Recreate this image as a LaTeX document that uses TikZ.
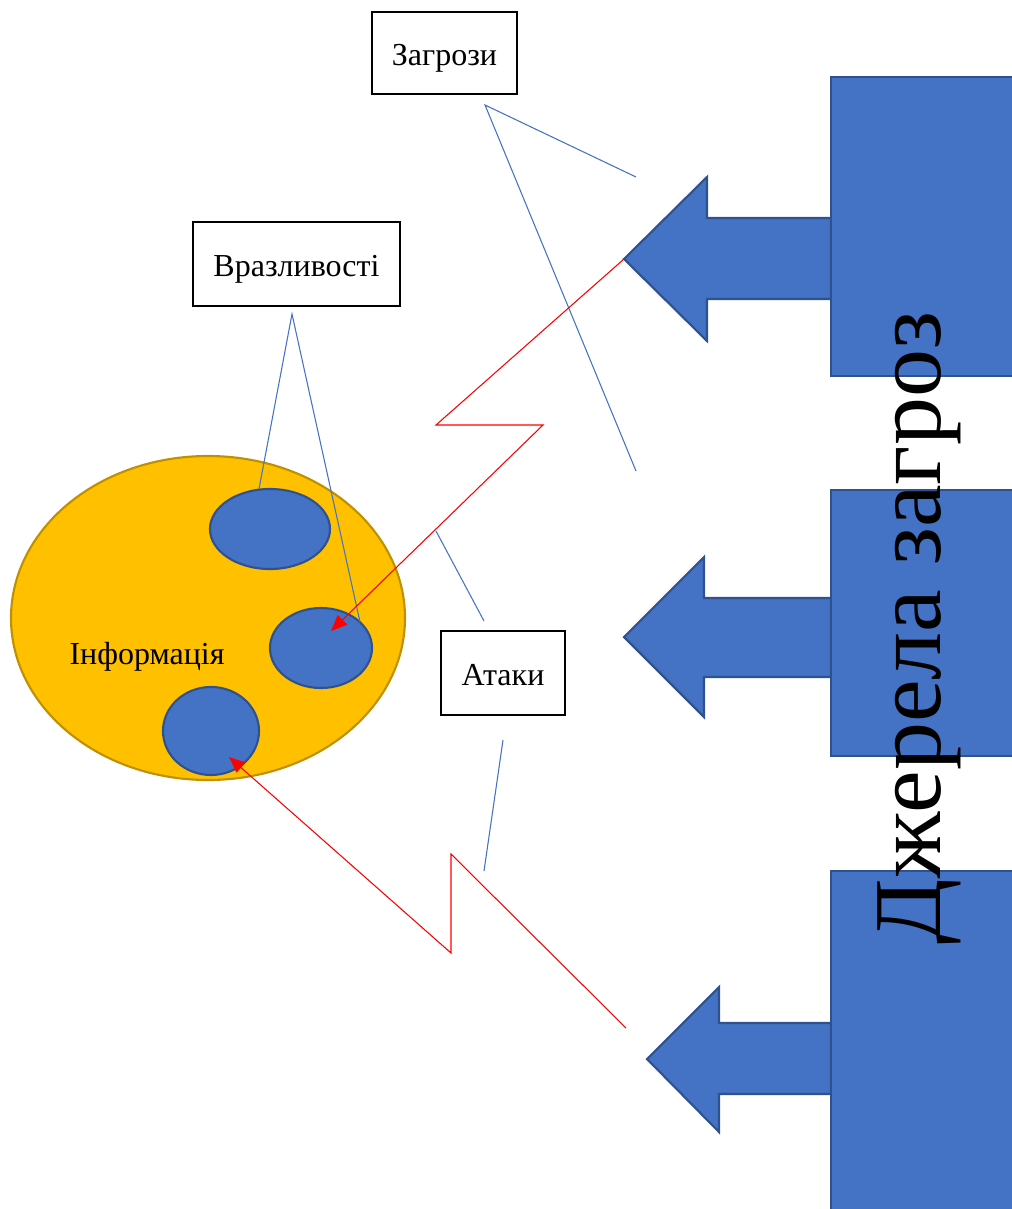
\documentclass[tikz,border=0pt]{standalone}
\usepackage{fontspec}
\setmainfont{Liberation Serif}
\usetikzlibrary{shapes.geometric,arrows.meta}
\definecolor{accent}{HTML}{4472C4}
\definecolor{accentdark}{HTML}{2F528F}
\definecolor{gold}{HTML}{FFC000}
\definecolor{golddark}{HTML}{BF9000}
\definecolor{threat}{HTML}{FF0000}

\begin{document}
\begin{tikzpicture}[x=0.75pt,y=-0.75pt,
  labeltext/.style={font=\fontsize{24}{28}\selectfont},
  labelbox/.style={labeltext, draw=black, line width=0.9pt, fill=white, inner sep=0pt,
    text height=20pt, text depth=1.5pt},
  asset/.style={ellipse, draw=accentdark, line width=1.6pt, fill=accent, inner sep=0pt},
  infoarea/.style={ellipse, draw=golddark, line width=1.6pt, fill=gold, inner sep=0pt},
  blockarrow/.style={fill=accent, draw=accentdark, line width=1.6pt, line join=miter},
  source/.style={fill=accent, draw=accentdark, line width=1.6pt},
  leader/.style={draw=accent, line width=0.8pt},
  attack/.style={draw=threat, line width=0.8pt, line join=miter},
  attacktip/.style={-{Triangle[length=12pt,width=10pt]}}
]
\useasboundingbox (0,0) rectangle (1012,1209);

% information area with assets
\node[infoarea, minimum width=394*0.75pt, minimum height=324*0.75pt] (info) at (208,618) {};
\node[asset, minimum width=120*0.75pt, minimum height=80*0.75pt] (as1) at (270,529) {};
\node[asset, minimum width=102*0.75pt, minimum height=80*0.75pt] (as2) at (321,648) {};
\node[asset, minimum width=96*0.75pt, minimum height=88*0.75pt] (as3) at (211,731) {};
\node[labeltext] (infotext) at (147,657) {Інформація};

% block arrows leaving the threat sources
\path[blockarrow] (624,259) -- (707,177) -- (707,218) -- (831,218) -- (831,299)
  -- (707,299) -- (707,341) -- cycle;
\path[blockarrow] (624,637) -- (704,557) -- (704,598) -- (831,598) -- (831,677)
  -- (704,677) -- (704,717) -- cycle;
\path[blockarrow] (647,1059) -- (719,987) -- (719,1023) -- (831,1023) -- (831,1094)
  -- (719,1094) -- (719,1132) -- cycle;

% threat sources
\path[source] (831,77) rectangle (1025,376);
\path[source] (831,490) rectangle (1025,756);
\path[source] (831,871) rectangle (1025,1225);
\node[rotate=90, anchor=base, font=\fontsize{72}{80}\selectfont, inner sep=0pt]
  (sources) at (940,628) {Джерела загроз};

% labels
\node[labelbox, minimum width=145*0.75pt, minimum height=82*0.75pt] (threats) at (444.5,53) {Загрози};
\node[labelbox, minimum width=207*0.75pt, minimum height=84*0.75pt] (vulns) at (296.5,264) {Вразливості};
\node[labelbox, minimum width=124*0.75pt, minimum height=84*0.75pt] (attacks) at (503,673) {Атаки};

% leader lines
\coordinate (thr) at (485,105);
\coordinate (thrA) at (636,177);
\coordinate (thrB) at (636,471);
\draw[leader] (thrA) -- (thr) -- (thrB);
\coordinate (vul) at (292,314);
\coordinate (vulA) at (259,489);
\coordinate (vulB) at (360,622);
\draw[leader] (vulA) -- (vul) -- (vulB);
\coordinate (atkA1) at (436,531);
\coordinate (atkA2) at (484,621);
\draw[leader] (atkA1) -- (atkA2);
\coordinate (atkB1) at (503,740);
\coordinate (atkB2) at (484,871);
\draw[leader] (atkB1) -- (atkB2);

% attack paths
\coordinate (src1) at (624,259);
\coordinate (hit1) at (331,631);
\draw[attack, attacktip] (src1) -- (436,425) -- (543,425) -- (hit1);
\coordinate (src3) at (626,1028);
\coordinate (hit3) at (229,757);
\draw[attack, attacktip] (src3) -- (451,854) -- (451,953) -- (hit3);
\end{tikzpicture}
\end{document}
